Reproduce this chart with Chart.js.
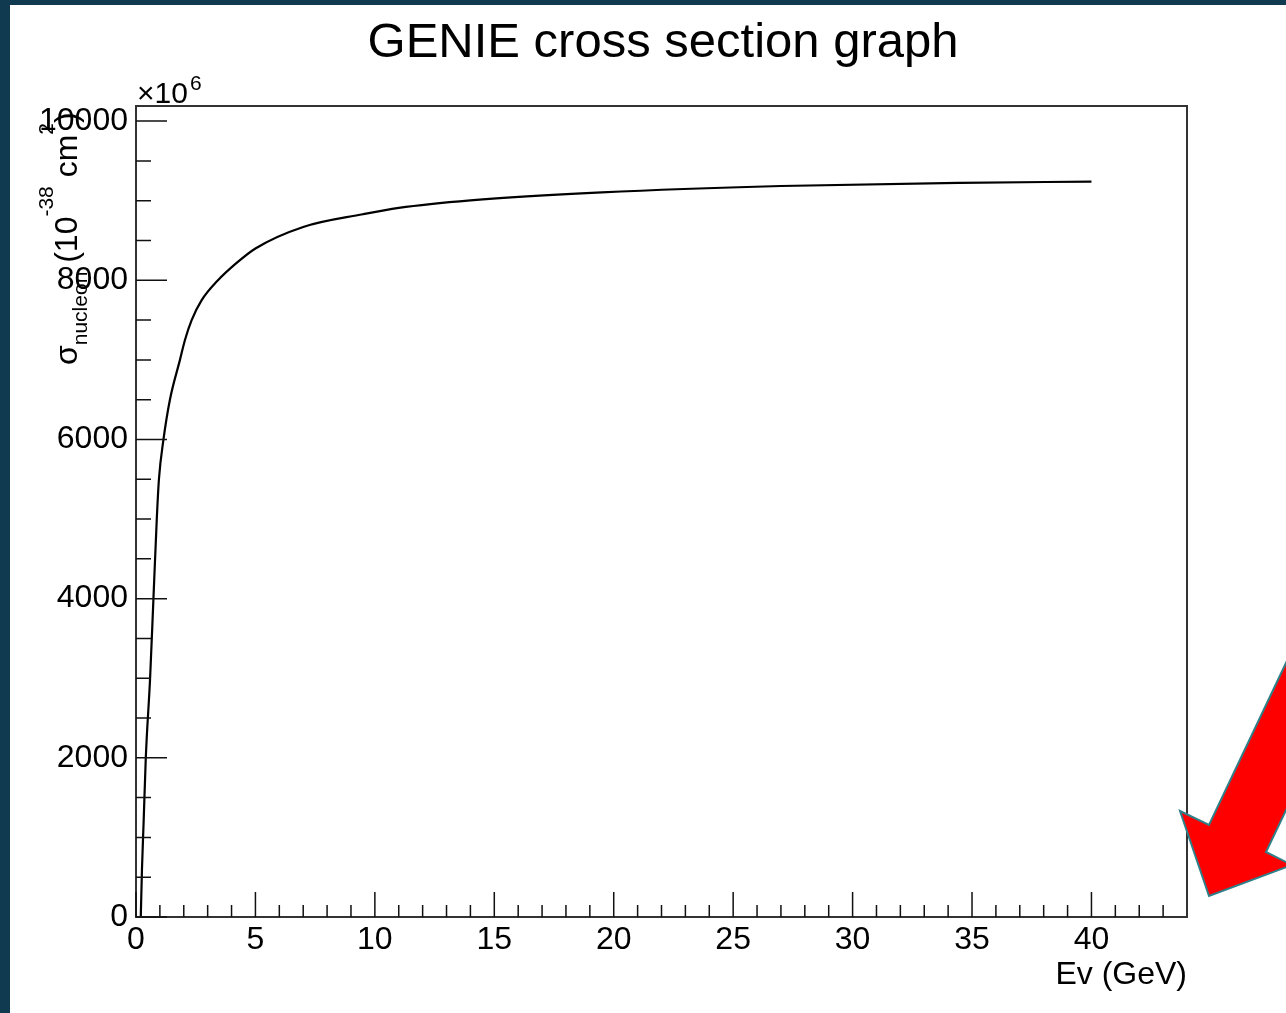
<!DOCTYPE html>
<html>
<head>
<meta charset="utf-8">
<script src="https://cdn.jsdelivr.net/npm/chart.js@4.4.1/dist/chart.umd.min.js"></script>
<style>
  html, body { margin: 0; padding: 0; background: #103a50; overflow: hidden; }
  #frame { position: absolute; left: 10px; top: 5px; width: 1276px; height: 1008px; background: #fff; }
  #frame canvas { display: block; }
</style>
</head>
<body>
<div id="frame"><canvas id="xsec" width="1276" height="1008"></canvas></div>
<script>
// values: neutrino energy (GeV) and sigma (x1e6, 1e-38 cm2)
let energies = [0.2, 0.25, 0.32, 0.41, 0.59, 0.73, 0.87, 0.96, 1.15, 1.42, 1.84, 2.05, 2.33, 2.75, 3.4, 4.2, 5, 7, 9.5, 11, 14, 19.5, 27, 34.5, 40];
let sigmaValues = [0, 600, 1200, 2000, 3000, 4000, 5000, 5500, 6000, 6500, 7000, 7250, 7500, 7750, 7990, 8215, 8400, 8670, 8830, 8910, 9005, 9105, 9185, 9225, 9240];

// axis ticks
let xTicks = [0, 5, 10, 15, 20, 25, 30, 35, 40];
let yTicks = [0, 2000, 4000, 6000, 8000, 10000];

const FONT = '"Liberation Sans", Arial, sans-serif';

// ROOT style decorations: frame, inward ticks, title, y title, exponent, arrow
const rootStyle = {
    id: 'rootStyle',
    afterDraw(chart) {
        const ctx = chart.ctx;
        const {left, right, top, bottom} = chart.chartArea;
        const xs = chart.scales.x;
        const ys = chart.scales.y;
        ctx.save();

        // frame around the plot
        ctx.strokeStyle = '#333';
        ctx.lineWidth = 2;
        ctx.strokeRect(left, top, right - left, bottom - top);

        // ticks pointing into the plot
        ctx.strokeStyle = '#111';
        ctx.lineWidth = 1.5;
        ctx.beginPath();
        for (let v = 0; v < xs.max; v += 1) {
            let px = xs.getPixelForValue(v);
            let len = xTicks.includes(v) ? 25 : 12;
            ctx.moveTo(px, bottom);
            ctx.lineTo(px, bottom - len);
        }
        for (let v = 0; v <= 10000; v += 500) {
            let py = ys.getPixelForValue(v);
            let len = yTicks.includes(v) ? 31 : 15;
            ctx.moveTo(left, py);
            ctx.lineTo(left + len, py);
        }
        ctx.stroke();

        // main title
        ctx.fillStyle = '#000';
        ctx.font = '49px ' + FONT;
        ctx.textAlign = 'center';
        ctx.textBaseline = 'alphabetic';
        ctx.fillText('GENIE cross section graph', 653, 52);

        // x10^6 exponent above the y axis
        ctx.textAlign = 'left';
        ctx.font = '30px ' + FONT;
        ctx.fillText('\u00d710', 127, 98);
        let w = ctx.measureText('\u00d710').width;
        ctx.font = '21px ' + FONT;
        ctx.fillText('6', 127 + w + 2, 85);

        // y axis title with sub/superscripts, rotated
        ctx.save();
        ctx.translate(67, 360);
        ctx.rotate(-Math.PI / 2);
        let parts = [
            ['\u03c3', 32, 0],
            ['nucleon', 21, 10],
            [' (10', 32, 0],
            ['-38', 21, -24],
            [' cm', 32, 0],
            ['2', 21, -24],
            [')', 32, 0]
        ];
        let x = 0;
        for (const [t, size, dy] of parts) {
            ctx.font = size + 'px ' + FONT;
            ctx.fillText(t, x, dy);
            x += ctx.measureText(t).width;
        }
        ctx.restore();

        // red arrow from the slide
        ctx.beginPath();
        ctx.moveTo(1199, 891);
        ctx.lineTo(1170, 806);
        ctx.lineTo(1199, 820);
        ctx.lineTo(1322, 561);
        ctx.lineTo(1380, 588);
        ctx.lineTo(1256, 847);
        ctx.lineTo(1282, 860);
        ctx.closePath();
        ctx.fillStyle = '#ff0000';
        ctx.fill();
        ctx.strokeStyle = '#2f7f88';
        ctx.lineWidth = 2;
        ctx.stroke();

        ctx.restore();
    }
};

let xsecChart = new Chart(document.getElementById('xsec').getContext('2d'), {
    type: 'line',
    data: {
        datasets: [{
            label: 'GENIE cross section',
            data: energies.map((e, i) => ({x: e, y: sigmaValues[i]})),
            borderColor: '#000',
            borderWidth: 2.2,
            pointRadius: 0,
            fill: false,
            cubicInterpolationMode: 'monotone'
        }]
    },
    options: {
        responsive: false,
        animation: false,
        devicePixelRatio: 1,
        layout: {
            padding: {top: 101, right: 99, left: 0, bottom: 0}
        },
        plugins: {
            legend: {display: false},
            tooltip: {enabled: false},
            title: {display: false}
        },
        scales: {
            x: {
                type: 'linear',
                min: 0,
                max: 44,
                afterBuildTicks: s => { s.ticks = xTicks.map(v => ({value: v})); },
                afterFit: s => { s.height = 96; },
                grid: {display: false, drawTicks: false},
                border: {display: false},
                ticks: {
                    font: {family: FONT, size: 32},
                    color: '#000',
                    padding: 4,
                    maxRotation: 0,
                    autoSkip: false,
                    callback: v => String(v)
                },
                title: {
                    display: true,
                    text: 'Ev (GeV)',
                    align: 'end',
                    color: '#000',
                    font: {family: FONT, size: 32},
                    padding: {top: 0, bottom: 19}
                }
            },
            y: {
                type: 'linear',
                min: 0,
                max: 10190,
                afterBuildTicks: s => { s.ticks = yTicks.map(v => ({value: v})); },
                afterFit: s => { s.width = 126; },
                grid: {display: false, drawTicks: false},
                border: {display: false},
                ticks: {
                    font: {family: FONT, size: 32},
                    color: '#000',
                    padding: 8,
                    autoSkip: false,
                    callback: v => String(v)
                }
            }
        }
    },
    plugins: [rootStyle]
});
</script>
</body>
</html>
